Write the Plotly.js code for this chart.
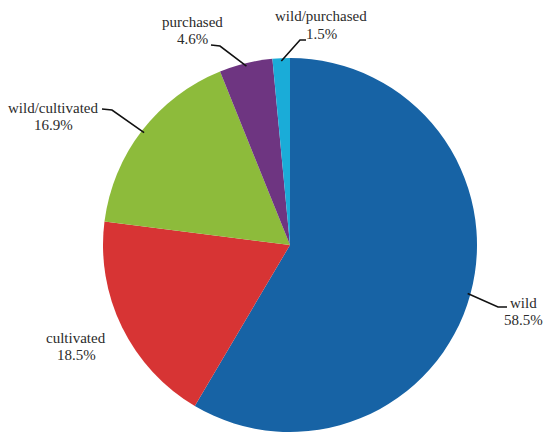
<!DOCTYPE html>
<html>
<head>
<meta charset="utf-8">
<script src="https://cdn.plot.ly/plotly-3.0.1.min.js"></script>
<style>html,body{margin:0;padding:0;background:#fff;}#chart{width:543px;height:437px;}</style>
</head>
<body>
<div id="chart"></div>
<script>
// Data
const labels = ["wild", "cultivated", "wild/cultivated", "purchased", "wild/purchased"];
const values = [58.5, 18.5, 16.9, 4.6, 1.5];
const colors = ["#1763a5", "#d73434", "#8dbb3b", "#6e3581", "#1aacd8"];

// Layout geometry (pixels)
const W = 543, H = 437;
const M = {l: 103, r: 66, t: 58, b: 5};
const PW = W - M.l - M.r, PH = H - M.t - M.b;
const px2x = p => (p - M.l) / PW;
const py2y = p => (H - M.b - p) / PH;

// label placement: text centre, and leader knee/end (pixels); null = no leader
const labelPos = [
  {cx: 523, cy: 311, knee: [498, 307], end: [507, 307]},
  {cx: 76, cy: 346, knee: null},
  {cx: 53, cy: 116, knee: [112, 110], end: [102, 109]},
  {cx: 192, cy: 31, knee: [220, 46], end: [211, 45]},
  {cx: 321, cy: 25, knee: [300, 40], end: [306, 40]}
];
const LINE_GAP = 17;
const font = {family: '"Liberation Serif", "Times New Roman", serif', size: 15, color: '#2b2b2b'};

const total = values.reduce((a, b) => a + b, 0);
const annotations = [];
const shapes = [];
let cum = 0;
values.forEach((v, i) => {
  const mid = (cum + v / 2) / total * 2 * Math.PI; // clockwise from top
  cum += v;
  const lp = labelPos[i];
  [labels[i], v.toFixed(1) + '%'].forEach((t, k) => {
    annotations.push({
      xref: 'paper', yref: 'paper',
      x: px2x(lp.cx), y: py2y(lp.cy + (k - 0.5) * LINE_GAP),
      xanchor: 'center', yanchor: 'middle',
      text: t, showarrow: false, font: font
    });
  });
  if (lp.knee) {
    const ex = 0.5 + 0.5 * 0.985 * Math.sin(mid);
    const ey = 0.5 + 0.5 * 0.985 * Math.cos(mid);
    shapes.push({
      type: 'path', xref: 'paper', yref: 'paper',
      path: 'M ' + ex + ' ' + ey + ' L ' + px2x(lp.knee[0]) + ' ' + py2y(lp.knee[1]) +
            ' L ' + px2x(lp.end[0]) + ' ' + py2y(lp.end[1]),
      line: {color: '#111', width: 1.6}
    });
  }
});

const trace = {
  type: 'pie',
  labels: labels,
  values: values,
  sort: false,
  direction: 'clockwise',
  rotation: 0,
  marker: {colors: colors, line: {width: 0}},
  textinfo: 'none',
  hoverinfo: 'label+percent',
  showlegend: false,
  domain: {x: [0, 1], y: [0, 1]}
};

const layout = {
  width: W, height: H,
  margin: M,
  paper_bgcolor: '#fff',
  plot_bgcolor: '#fff',
  showlegend: false,
  font: {family: '"Liberation Serif", serif'},
  annotations: annotations,
  shapes: shapes
};

Plotly.newPlot('chart', [trace], layout, {displayModeBar: false, staticPlot: true});
</script>
</body>
</html>
